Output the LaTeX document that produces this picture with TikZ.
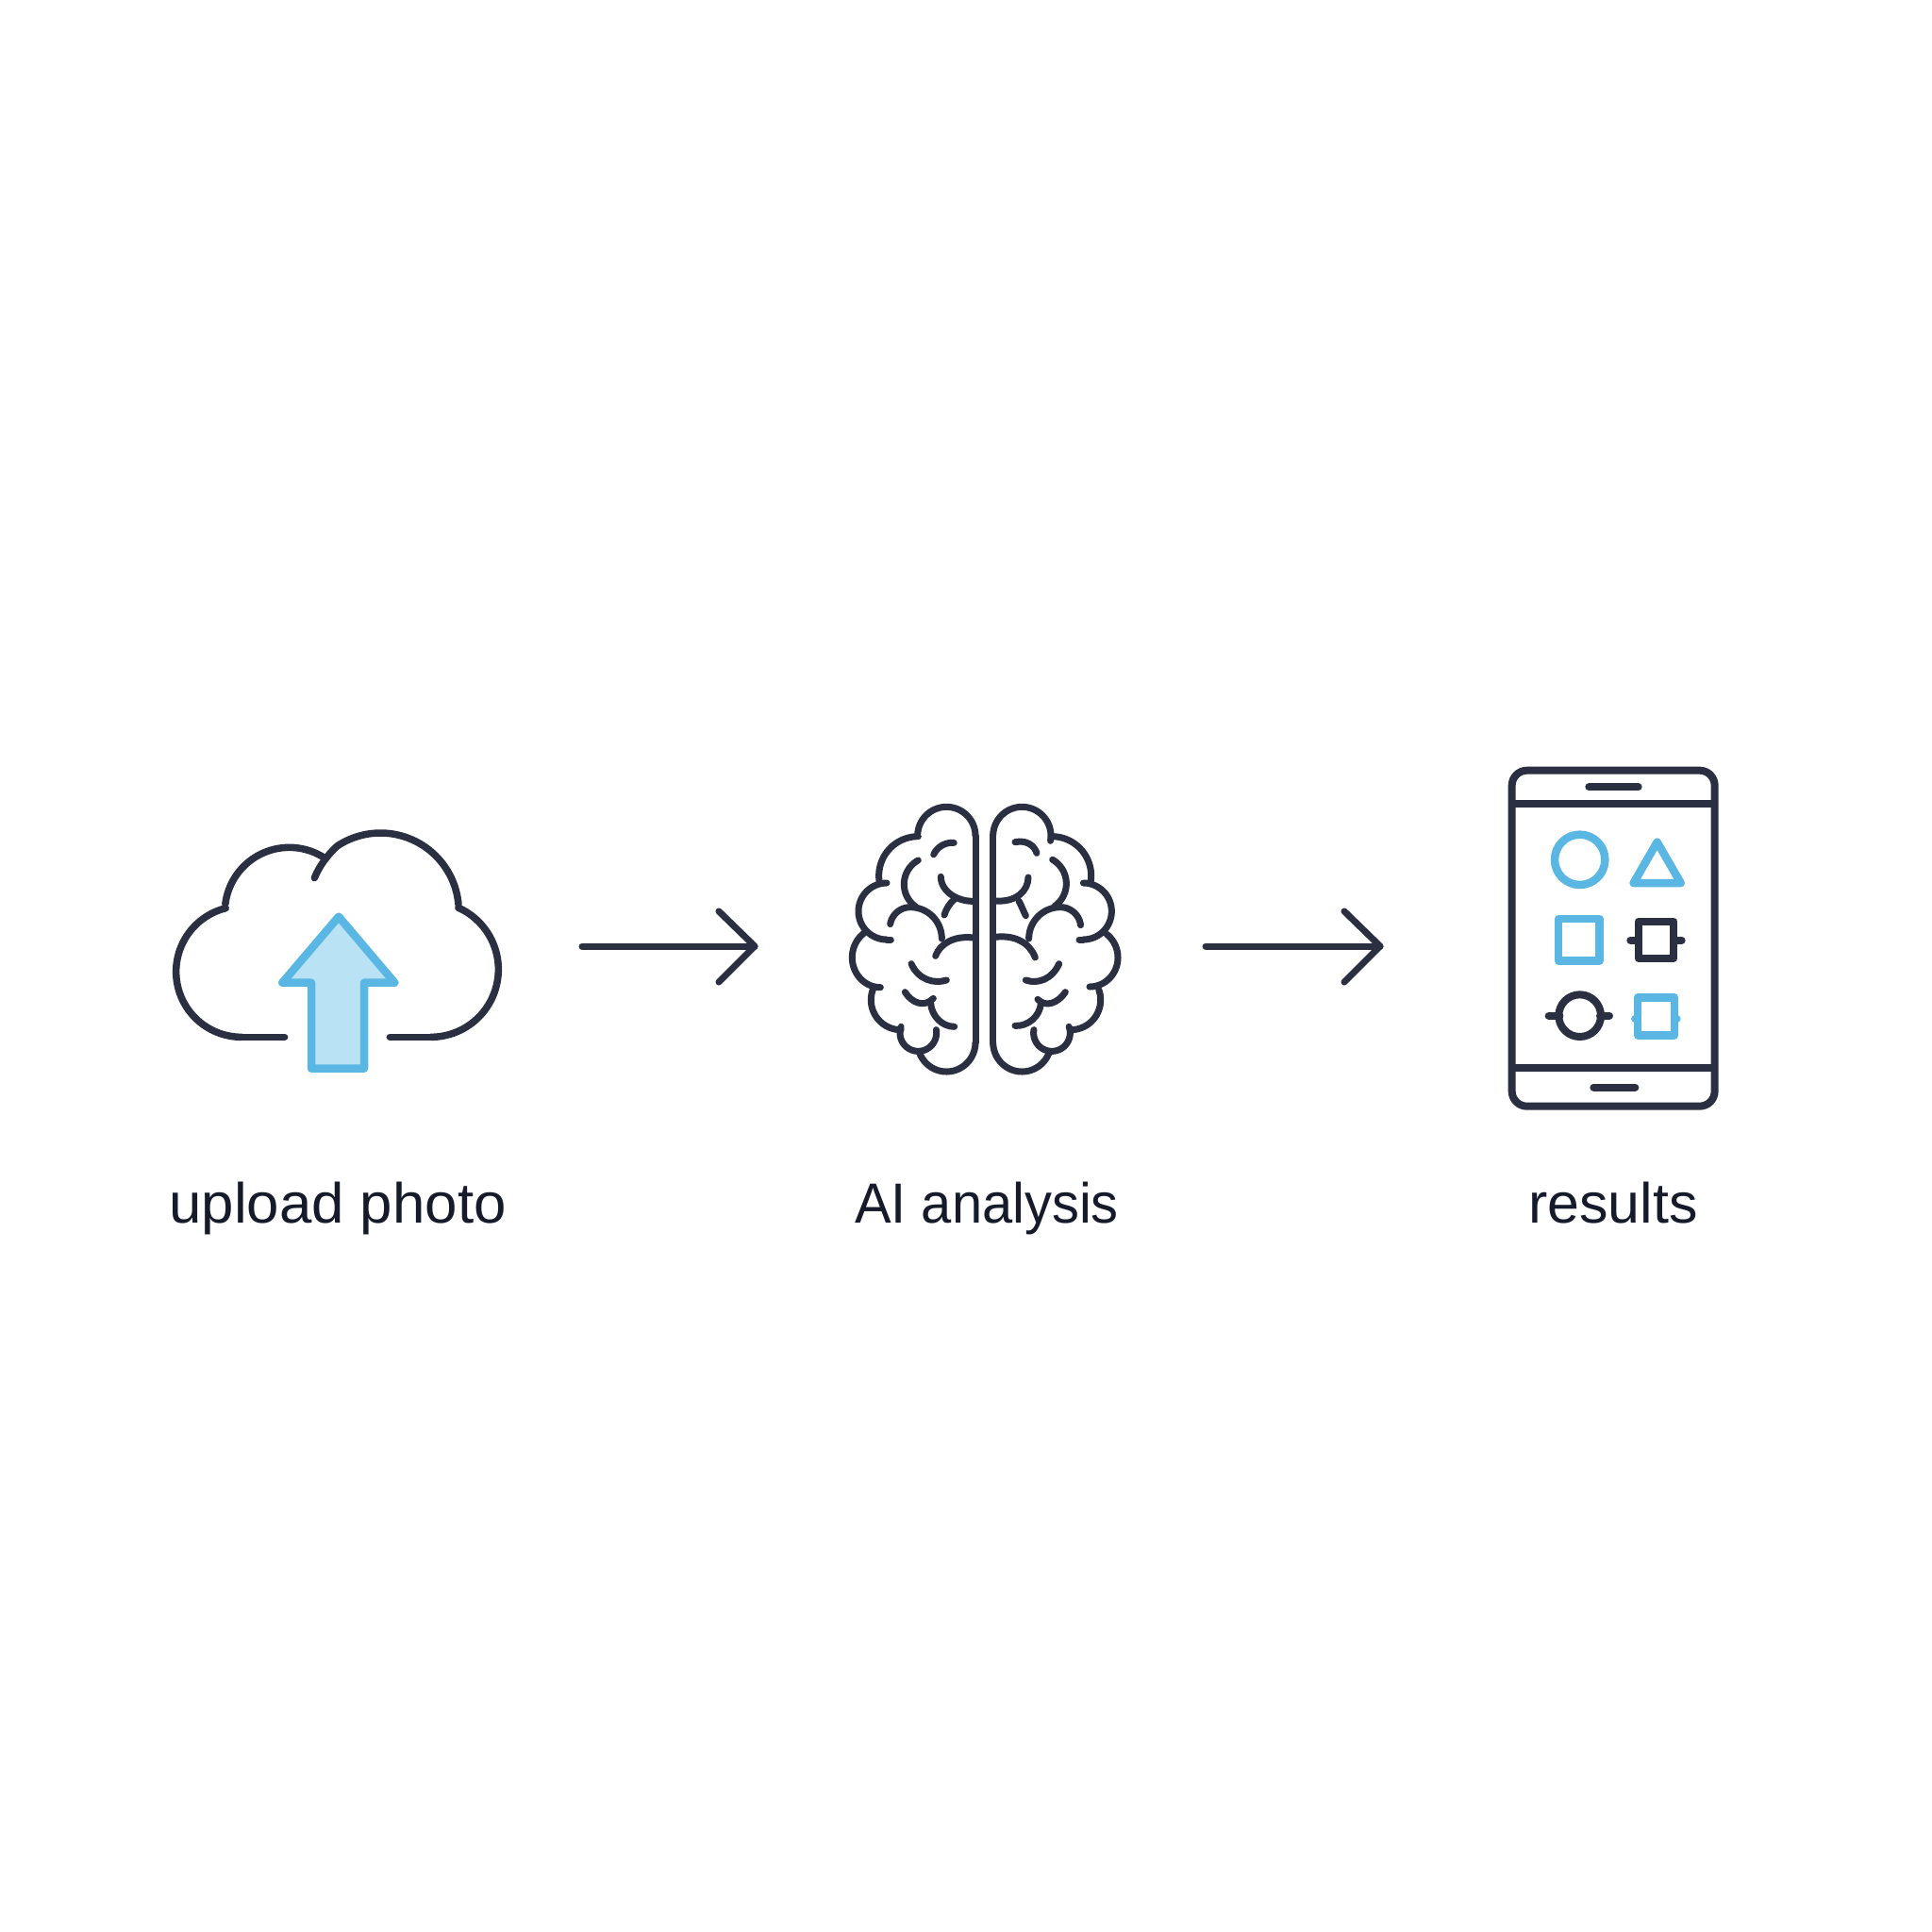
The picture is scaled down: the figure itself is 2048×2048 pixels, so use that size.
\documentclass[tikz,border=0pt]{standalone}
\usepackage{fontspec}
\setmainfont{Liberation Sans}
\definecolor{ink}{HTML}{2A2F42}
\definecolor{txt}{HTML}{161B2C}
\definecolor{sky}{HTML}{5AB7E4}
\definecolor{skyfill}{HTML}{B9E2F4}
\tikzset{
  inkline/.style={draw=ink,line width=7.5pt,line cap=round,line join=round},
  phoneline/.style={draw=ink,line width=8pt,line cap=round,line join=round},
  skyline/.style={draw=sky,line width=8.5pt,line cap=round,line join=round},
  brainline/.style={draw=ink,line width=7pt,line cap=round,line join=round},
  flowarrow/.style={draw=ink,line width=7pt,line cap=round,line join=round},
  caption/.style={anchor=base,text=txt,font=\fontsize{60}{60}\selectfont,inner sep=0pt,transform shape},
  zoomed/.style={x=0.33333pt,y=-0.33333pt}
}
% \lobe[style]{cx}{cy}{rx}{ry}{from angle}{to angle}; angles run clockwise on the page
\newcommand{\lobe}[7][brainline]{\draw[#1] plot[domain=#6:#7,samples=60] ({#2+#4*cos(\x)},{#3+#5*sin(\x)});}
\newcommand{\bz}[4]{\draw[brainline] #1 .. controls #2 and #3 .. #4;}
\begin{document}
\begin{tikzpicture}[x=1pt,y=-1pt]
\useasboundingbox (0,0) rectangle (2048,2048);
\fill[white] (0,0) rectangle (2048,2048);
% cloud
\begin{scope}[shift={(160,860)},zoomed]
\draw[inkline] (425,718) -- (288,718);
\lobe[inkline]{288}{510}{208}{208}{90}{256}
\lobe[inkline]{440}{320}{205}{205}{187}{303}
\draw[inkline] (520,212) .. controls (535,175) and (560,140) .. (594,109);
\lobe[inkline]{730}{318}{249}{249}{237}{355}
\lobe[inkline]{890}{503}{215}{215}{294}{450}
\draw[inkline] (890,718) -- (760,718);
\draw[skyline,fill=skyfill] (597,335) -- (775,545) -- (678,545) -- (678,818) -- (510,818) -- (510,545) -- (418,545) -- cycle;
\end{scope}
% brain left
\begin{scope}[shift={(890,840)},zoomed]
\lobe{340}{138}{92}{92}{185}{360}
\draw[brainline] (432,138) -- (432,795);
\lobe{340}{795}{92}{93}{0}{160}
\lobe{250}{265}{125}{125}{270}{170}
\lobe{150}{378}{90}{90}{270}{90}
\draw[brainline] (150,468) -- (163,468);
\lobe{130}{525}{90}{95}{235}{90}
\lobe{195}{660}{95}{95}{203}{90}
\lobe{250}{765}{58}{58}{200}{-10}
\lobe{358}{225}{65}{65}{275}{205}
\lobe{292}{292}{87}{87}{241}{125}
\lobe{425}{268}{103}{78}{180}{90}
\bz{(365,340)}{(350,352)}{(338,372)}{(333,390)}
\lobe{225}{430}{65}{65}{190}{270}
\lobe{225}{465}{100}{100}{270}{360}
\bz{(305,520)}{(320,480)}{(365,455)}{(425,462)}
\bz{(228,545)}{(250,595)}{(300,610)}{(340,597)}
\bz{(208,635)}{(230,670)}{(270,685)}{(298,655)}
\bz{(290,672)}{(293,710)}{(325,745)}{(365,745)}
\end{scope}
% brain right
\begin{scope}[shift={(1040,840)},zoomed]
\lobe{130}{138}{92}{92}{180}{370}
\draw[brainline] (38,138) -- (38,795);
\lobe{130}{795}{92}{93}{180}{18}
\lobe{225}{265}{125}{125}{270}{370}
\lobe{325}{378}{90}{90}{270}{450}
\draw[brainline] (325,468) -- (312,468);
\lobe{345}{525}{90}{93}{307}{450}
\lobe{285}{660}{95}{95}{340}{450}
\lobe{225}{765}{58}{58}{-20}{190}
\bz{(108,158)}{(145,150)}{(170,170)}{(177,193)}
\lobe{183}{290}{88}{88}{-60}{55}
\bz{(150,270)}{(150,310)}{(115,350)}{(45,345)}
\bz{(120,345)}{(128,360)}{(135,378)}{(142,392)}
\lobe{252}{430}{65}{65}{353}{270}
\lobe{252}{465}{100}{100}{270}{180}
\bz{(172,525)}{(155,480)}{(110,452)}{(45,460)}
\bz{(248,545)}{(225,595)}{(180,610)}{(142,597)}
\bz{(268,635)}{(245,670)}{(205,685)}{(180,658)}
\bz{(190,672)}{(187,710)}{(150,745)}{(108,742)}
\end{scope}
% phone
\begin{scope}[shift={(1590,800)},zoomed]
\draw[phoneline,rounded corners=16pt] (38,50) rectangle (683,1118);
\draw[phoneline,line cap=butt] (38,157) -- (683,157);
\draw[phoneline,line cap=butt] (38,997) -- (683,997);
\draw[phoneline] (283,103) -- (440,103);
\draw[phoneline] (298,1058) -- (430,1058);
\draw[skyline] (254,334) circle[radius=80];
\draw[skyline] (500,278) -- (575,408) -- (425,408) -- cycle;
\draw[skyline] (186,522) rectangle (317,655);
\draw[phoneline] (440,530) rectangle (553,648);
\draw[phoneline] (415,590) -- (440,590);
\draw[phoneline] (553,590) -- (578,590);
\draw[phoneline] (254,830) circle[radius=67];
\draw[phoneline] (155,830) -- (190,830);
\draw[phoneline] (318,830) -- (348,830);
\draw[skyline] (438,773) rectangle (555,892);
\draw[skyline] (430,840) -- (438,840);
\draw[skyline] (555,840) -- (562,840);
\end{scope}
% arrows
\coordinate (a1s) at (617,1003);
\coordinate (a1t) at (800,1003);
\coordinate (a1u) at (762,966);
\coordinate (a1d) at (762,1041);
\coordinate (a2s) at (1278,1003);
\coordinate (a2t) at (1463,1003);
\coordinate (a2u) at (1425,966);
\coordinate (a2d) at (1425,1041);
\draw[flowarrow] (a1s) -- (a1t);
\draw[flowarrow] (a1u) -- (a1t) -- (a1d);
\draw[flowarrow] (a2s) -- (a2t);
\draw[flowarrow] (a2u) -- (a2t) -- (a2d);
% labels
\node[caption,xscale=1.03] (l1) at (358,1296) {upload photo};
\node[caption,xscale=0.964] (l2) at (1046,1296) {AI analysis};
\node[caption,xscale=1.015] (l3) at (1710,1296) {results};
\end{tikzpicture}
\end{document}
